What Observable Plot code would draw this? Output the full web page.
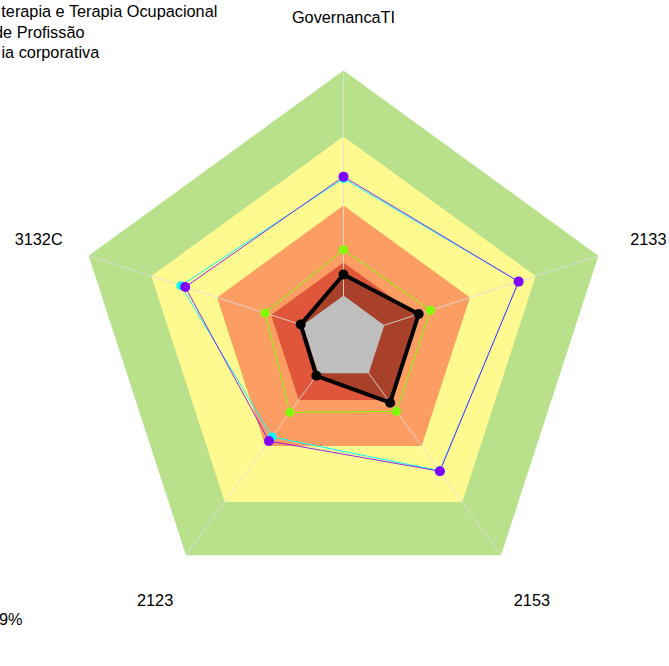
<!DOCTYPE html>
<html>
<head>
<meta charset="utf-8">
<script src="https://cdn.jsdelivr.net/npm/d3@7"></script>
<script src="https://cdn.jsdelivr.net/npm/@observablehq/plot@0.6"></script>
<style>
  html, body { margin: 0; padding: 0; background: #fff; overflow: hidden; }
  #chart svg { display: block; }
</style>
</head>
<body>
<div id="chart"></div>
<script>
// Axis categories (clockwise from top)
const axes = ["GovernancaTI", "2133", "2153", "2123", "3132C"];

// Background band levels (0-100 radial scale), outer to inner
const bandLevels = [100, 75.4, 49.6, 28.4];
const bandColors = ["#B9E18B", "#FFFA90", "#FC9D64", "#E0563A"];
const coreLevel = 16;
const coreColor = "#BEBEBE";

// Series values per axis
const blackValues  = [23.9, 29.5, 29.6, 17.2, 16.8];
const greenValues  = [33.1, 34.1, 33.6, 34.1, 30.8];
const cyanValues   = [59.7, 68.7, 61.0, 45.4, 63.8];
const purpleValues = [60.4, 68.7, 61.2, 47.3, 62.1];

// Legend / annotation texts (cut by the left edge in the original)
const legendLabels = ["terapia e Terapia Ocupacional", "de Profissão", "ia corporativa"];
const noteLabel = "9%";

const labelRadius = 119.6;
const W = 669, H = 666;
const cx = 343, cy = 338, pxPerUnit = 2.68;
const FS = 16.3;

const ang = i => i * 2 * Math.PI / axes.length;
const poly = vals => {
  const p = vals.map((v, i) => ({x: v * Math.sin(ang(i)), y: v * Math.cos(ang(i))}));
  p.push(p[0]);
  return p;
};
const ring = lvl => poly(axes.map(() => lvl));
const pts = vals => vals.map((v, i) => ({x: v * Math.sin(ang(i)), y: v * Math.cos(ang(i))}));

const marks = [];
bandLevels.forEach((lvl, k) => {
  marks.push(Plot.line(ring(lvl), {x: "x", y: "y", fill: bandColors[k], stroke: "none"}));
});
// black series fill
marks.push(Plot.line(poly(blackValues), {x: "x", y: "y", fill: "#A9412A", stroke: "none"}));
// spokes
marks.push(Plot.link(axes, {
  x1: () => 0, y1: () => 0,
  x2: (d, i) => 100 * Math.sin(ang(i)), y2: (d, i) => 100 * Math.cos(ang(i)),
  stroke: "#DDDDDD", strokeWidth: 1, strokeOpacity: 0.85
}));
// grey core
marks.push(Plot.line(ring(coreLevel), {x: "x", y: "y", fill: coreColor, stroke: "none"}));

// series lines
marks.push(Plot.line(poly(greenValues), {x: "x", y: "y", stroke: "#7FFF00", strokeWidth: 1}));
marks.push(Plot.line(poly(cyanValues), {x: "x", y: "y", stroke: "#00FFFF", strokeWidth: 1}));
marks.push(Plot.line(poly(purpleValues), {x: "x", y: "y", stroke: "#8000FF", strokeWidth: 1, strokeOpacity: 0.85}));
marks.push(Plot.line(poly(blackValues), {x: "x", y: "y", stroke: "#000000", strokeWidth: 4, strokeLinejoin: "round"}));

// points
marks.push(Plot.dot(pts(greenValues), {x: "x", y: "y", r: 4.5, fill: "#7FFF00"}));
marks.push(Plot.dot(pts(cyanValues), {x: "x", y: "y", r: 4.5, fill: "#00FFFF"}));
marks.push(Plot.dot(pts(purpleValues), {x: "x", y: "y", r: 5, fill: "#8000FF"}));
marks.push(Plot.dot(pts(blackValues), {x: "x", y: "y", r: 5, fill: "#000000"}));

// axis labels
marks.push(Plot.text(axes, {
  x: (d, i) => labelRadius * Math.sin(ang(i)),
  y: (d, i) => labelRadius * Math.cos(ang(i)) - (Math.cos(ang(i)) < -0.5 ? 1.2 : 0),
  text: d => d, fontSize: FS, fill: "#000"
}));

// legend lines (partially outside the left edge)
const legendStarts = [0.8, -6.5, 1];
legendLabels.forEach((t, i) => {
  marks.push(Plot.text([t], {
    frameAnchor: "top-left", text: d => d, textAnchor: "start",
    dx: legendStarts[i], dy: 5 + i * 20.5, fontSize: FS, fill: "#000"
  }));
});
marks.push(Plot.text([noteLabel], {
  frameAnchor: "top-left", text: d => d, textAnchor: "end",
  dx: 22, dy: 613, fontSize: FS, fill: "#000"
}));

const chart = Plot.plot({
  width: W, height: H,
  margin: 0,
  style: {fontFamily: "'Liberation Sans', Arial, sans-serif", background: "#fff", overflow: "hidden"},
  x: {domain: [-cx / pxPerUnit, (W - cx) / pxPerUnit], axis: null},
  y: {domain: [-(H - cy) / pxPerUnit, cy / pxPerUnit], axis: null},
  marks
});
document.getElementById("chart").appendChild(chart);
</script>
</body>
</html>
